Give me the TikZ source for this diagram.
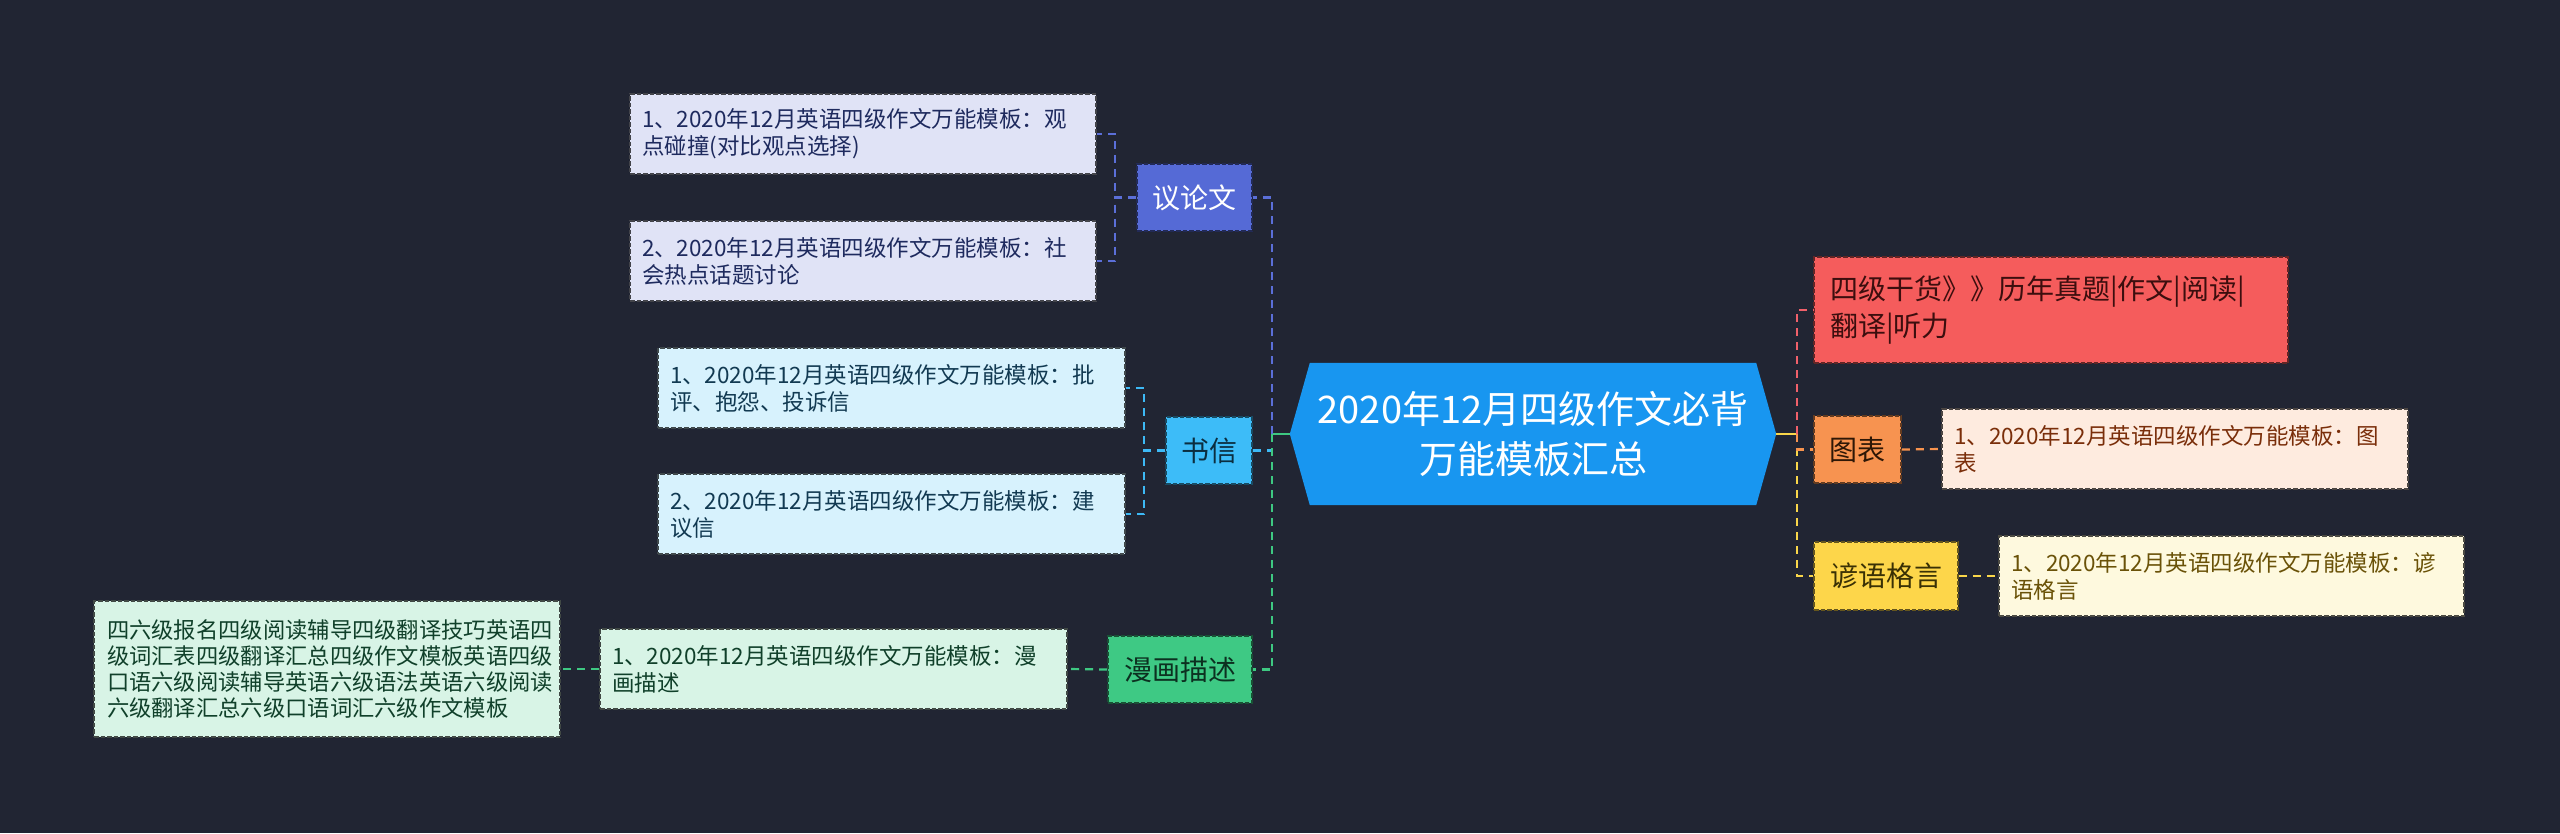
\documentclass[tikz,border=0pt]{standalone}
\usepackage{fontspec}
\setmainfont{Noto Sans CJK SC}
\definecolor{bg}{HTML}{212533}
\definecolor{cC}{HTML}{1896F0}
\definecolor{lnBlue}{HTML}{5B6FD8}
\definecolor{lnSky}{HTML}{3DB9F5}
\definecolor{lnGreen}{HTML}{3EC882}
\definecolor{lnRed}{HTML}{F0606A}
\definecolor{lnOr}{HTML}{F7934E}
\definecolor{lnYe}{HTML}{F9D64A}
\definecolor{fYL}{HTML}{556AD6}
\definecolor{fYL1}{HTML}{E0E3F6}
\definecolor{tYL1}{HTML}{1E2A5E}
\definecolor{fSX}{HTML}{3DBCF8}
\definecolor{tSX}{HTML}{0B2E40}
\definecolor{fSX1}{HTML}{D7F2FD}
\definecolor{tSX1}{HTML}{123A52}
\definecolor{fMH}{HTML}{3EC984}
\definecolor{tMH}{HTML}{0C3020}
\definecolor{fMH1}{HTML}{D8F4E6}
\definecolor{tMH1}{HTML}{10402A}
\definecolor{fGH}{HTML}{F55C5C}
\definecolor{tGH}{HTML}{3C0E0E}
\definecolor{fTB}{HTML}{F79350}
\definecolor{tTB}{HTML}{2E1706}
\definecolor{fTB1}{HTML}{FEEBDF}
\definecolor{tTB1}{HTML}{7A2E0A}
\definecolor{fYY}{HTML}{FDD64A}
\definecolor{tYY}{HTML}{3A3105}
\definecolor{fYY1}{HTML}{FEF9DE}
\definecolor{tYY1}{HTML}{6A5208}
\begin{document}
\begin{tikzpicture}[x=1pt,y=-1pt,
  conn/.style={line width=2.6pt, dash pattern=on 8pt off 6pt},
  subconn/.style={line width=2.2pt, dash pattern=on 8pt off 6pt},
  leafbox/.style={rectangle, line width=1.6pt, dash pattern=on 4.5pt off 2pt,
    inner xsep=12pt, inner ysep=0pt, minimum height=80pt, text width=442pt,
    align=left, font=\fontsize{22.5}{27}\selectfont},
  midbox/.style={rectangle, line width=1.6pt, dash pattern=on 4.5pt off 2pt,
    inner xsep=0pt, inner ysep=0pt, minimum height=67pt, align=center,
    font=\fontsize{28}{34}\selectfont},
]
\fill[bg] (0,0) rectangle (2560,833);
\useasboundingbox (0,0) rectangle (2560,833);

% ---------- centre ----------
\node[rectangle, minimum width=486pt, minimum height=142pt, inner sep=0pt] (c) at (1533,434) {};
\fill[cC] (c.west) -- ([xshift=20pt]c.north west) -- ([xshift=-20pt]c.north east)
  -- (c.east) -- ([xshift=-20pt]c.south east) -- ([xshift=20pt]c.south west) -- cycle;
\node[text=white, align=center, inner sep=0pt, font=\fontsize{38}{50}\selectfont] (ct) at (c.center)
  {2020年12月四级作文必背\\万能模板汇总};

% ---------- left branches ----------
\node[midbox, minimum width=115pt, fill=fYL, draw=fYL!40!black, text=white] (yl) at (1194.5,197.5) {议论文};
\node[leafbox, fill=fYL1, draw=fYL1!30!black, text=tYL1] (yl1) at (863,134)
  {1、2020年12月英语四级作文万能模板：观\\点碰撞(对比观点选择)};
\node[leafbox, fill=fYL1, draw=fYL1!30!black, text=tYL1] (yl2) at (863,261)
  {2、2020年12月英语四级作文万能模板：社\\会热点话题讨论};

\node[midbox, minimum width=86pt, fill=fSX, draw=fSX!40!black, text=tSX] (sx) at (1209,450.5) {书信};
\node[leafbox, text width=443pt, fill=fSX1, draw=fSX1!30!black, text=tSX1] (sx1) at (891.5,388)
  {1、2020年12月英语四级作文万能模板：批\\评、抱怨、投诉信};
\node[leafbox, text width=443pt, fill=fSX1, draw=fSX1!30!black, text=tSX1] (sx2) at (891.5,514)
  {2、2020年12月英语四级作文万能模板：建\\议信};

\node[midbox, minimum width=144pt, fill=fMH, draw=fMH!40!black, text=tMH] (mh) at (1180,669.5) {漫画描述};
\node[leafbox, text width=443pt, fill=fMH1, draw=fMH1!30!black, text=tMH1] (mh1) at (833.5,669)
  {1、2020年12月英语四级作文万能模板：漫\\画描述};
\node[leafbox, inner xsep=13pt, text width=440pt, minimum height=136pt,
  font=\fontsize{22.3}{26}\selectfont, fill=fMH1, draw=fMH1!30!black, text=tMH1] (mh2) at (327,669)
  {四六级报名四级阅读辅导四级翻译技巧英语四\\级词汇表四级翻译汇总四级作文模板英语四级\\口语六级阅读辅导英语六级语法英语六级阅读\\六级翻译汇总六级口语词汇六级作文模板};

% ---------- right branches ----------
\node[leafbox, inner xsep=16pt, text width=442pt, minimum height=106pt,
  font=\fontsize{28}{37}\selectfont, fill=fGH, draw=fGH!40!black, text=tGH] (gh) at (2051,310)
  {四级干货》》历年真题|作文|阅读|\\翻译|听力};

\node[midbox, minimum width=87pt, fill=fTB, draw=fTB!40!black, text=tTB] (tb) at (1857.5,449.5) {图表};
\node[leafbox, fill=fTB1, draw=fTB1!30!black, text=tTB1] (tb1) at (2175,449)
  {1、2020年12月英语四级作文万能模板：图\\表};

\node[midbox, minimum width=144pt, minimum height=68pt, fill=fYY, draw=fYY!40!black, text=tYY] (yy) at (1886,576) {谚语格言};
\node[leafbox, text width=441pt, fill=fYY1, draw=fYY1!30!black, text=tYY1] (yy1) at (2231.5,576)
  {1、2020年12月英语四级作文万能模板：谚\\语格言};

% ---------- connectors ----------
\coordinate (jl) at (1272,434);
\coordinate (jr) at (1797,434);

\draw[lnGreen, line width=2.6pt] (c.west) -- (jl);
\draw[conn, lnBlue] (jl) |- (yl.east);
\draw[conn, lnSky] (jl) |- (sx.east);
\draw[conn, lnGreen] (jl) |- (mh.east);

\draw[subconn, lnBlue] (yl.west) -- ++(-21,0) |- (yl1.east);
\draw[subconn, lnBlue] (yl.west) -- ++(-21,0) |- (yl2.east);
\draw[subconn, lnSky] (sx.west) -- ++(-21,0) |- (sx1.east);
\draw[subconn, lnSky] (sx.west) -- ++(-21,0) |- (sx2.east);
\draw[subconn, lnGreen] (mh.west) -- (mh1.east);
\draw[subconn, lnGreen] (mh1.west) -- (mh2.east);

\draw[lnYe, line width=2.6pt] (c.east) -- (jr);
\draw[conn, lnYe] (jr) |- (yy.west);
\draw[conn, lnOr] (jr) |- (tb.west);
\draw[conn, lnRed] (jr) |- (gh.west);
\draw[subconn, lnOr] (tb.east) -- (tb1.west);
\draw[subconn, lnYe] (yy.east) -- (yy1.west);
\end{tikzpicture}
\end{document}
